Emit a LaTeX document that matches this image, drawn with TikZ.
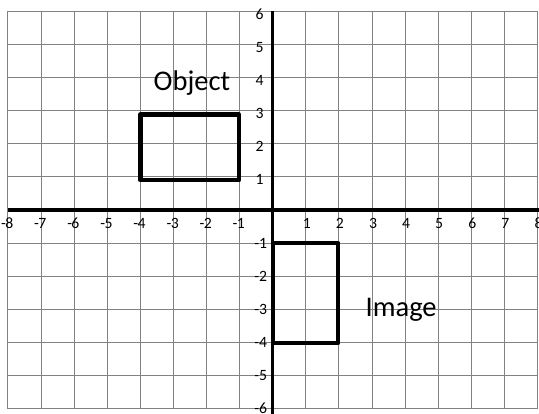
\documentclass[tikz,border=0pt]{standalone}
\usepackage{fontspec}
\setmainfont{Carlito}
\definecolor{gridgray}{RGB}{130,130,130}
\begin{document}
\begin{tikzpicture}[
  gridline/.style={draw=gridgray, line width=0.9pt},
  axisline/.style={draw=black, line width=2.6pt},
  shapebox/.style={draw=black, line width=3.8pt, line join=round},
  ticklbl/.style={font=\fontsize{13.5}{14}\selectfont, inner sep=0pt},
  biglbl/.style={font=\fontsize{24.5}{26}\selectfont, inner sep=0pt, anchor=base}
]
\useasboundingbox (-8.24,-6.16) rectangle (8.045,6.345);
% grid
\foreach \i in {-8,...,8} {\draw[gridline] (\i,-6) -- (\i,6);}
\foreach \j in {-6,...,6} {\draw[gridline] (-8,\j) -- (8,\j);}
% axes
\draw[axisline] (-8,0) -- (8.045,0);
\draw[axisline] (0,6) -- (0,-6.16);
% x labels
\foreach \i in {-8,...,-1} {\node[ticklbl, anchor=north] (xl\i) at (\i+0.04,-0.24) {\llap{-\kern-0.5pt}\the\numexpr-\i\relax};}
\foreach \i in {1,...,8} {\node[ticklbl, anchor=north] (xl\i) at (\i+0.03,-0.24) {\i};}
% y labels
\foreach \j in {1,...,6} {\node[ticklbl, anchor=east] (yl\j) at (-0.27,\j-0.08) {\j};}
\foreach \j in {-6,...,-1} {\node[ticklbl, anchor=east] (yl\j) at (-0.16,\j) {\j};}
% shapes
\draw[shapebox] (-4,0.9) rectangle (-1.02,2.88);
\draw[shapebox] (0,-1) rectangle (1.98,-4.02);
% labels
\node[biglbl] (obj) at (-2.44,3.60) {Object};
\node[biglbl] (img) at (3.88,-3.22) {Image};
\end{tikzpicture}
\end{document}
